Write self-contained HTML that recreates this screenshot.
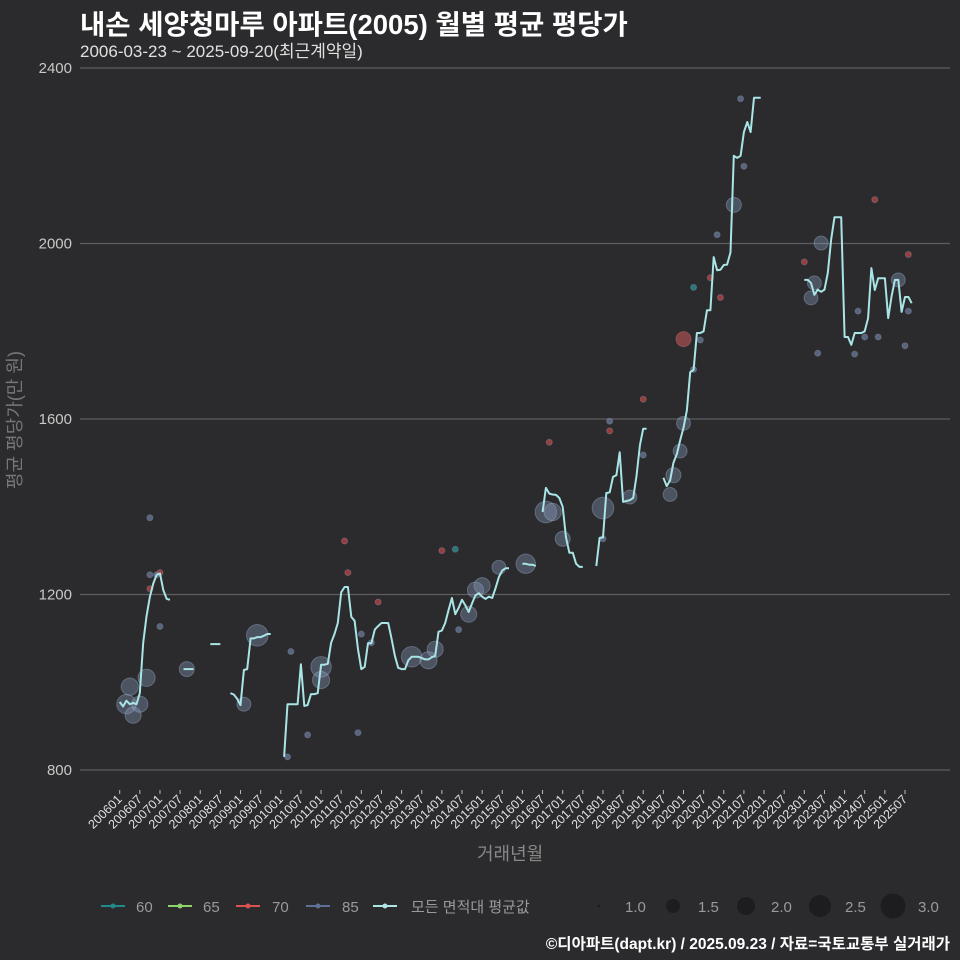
<!DOCTYPE html>
<html><head><meta charset="utf-8">
<style>
html,body{margin:0;padding:0;background:#2b2b2d;}
#wrap{position:relative;width:960px;height:960px;background:#2b2b2d;font-family:"Liberation Sans","Noto Sans CJK KR",sans-serif;overflow:hidden;}
.t{position:absolute;white-space:nowrap;}
</style></head>
<body>
<div id="wrap">
<div class="t" style="left:80px;top:2px;font-size:27.5px;font-weight:bold;color:#fff;">내손 세양청마루 아파트(2005) 월별 평균 평당가</div>
<div class="t" style="left:80px;top:37px;font-size:17px;color:#e0e0e0;">2006-03-23 ~ 2025-09-20(최근계약일)</div>
<div class="t" style="left:14px;top:420px;font-size:18px;color:#777;transform:translate(-50%,-50%) rotate(-90deg);transform-origin:center;">평균 평당가(만 원)</div>
<div class="t" style="left:477px;top:840px;font-size:18px;color:#888;">거래년월</div>
<svg id="chart" width="960" height="960" style="position:absolute;left:0;top:0;"></svg>
<div class="t" style="right:10px;top:932px;font-size:15.5px;font-weight:bold;color:#fff;">©디아파트(dapt.kr) / 2025.09.23 / 자료=국토교통부 실거래가</div>
</div>
<script>
// ---- data ----
const yTicks = [800, 1200, 1600, 2000, 2400];
const xTickLabels = ["200601","200607","200701","200707","200801","200807","200901","200907","201001","201007","201101","201107","201201","201207","201301","201307","201401","201407","201501","201507","201601","201607","201701","201707","201801","201807","201901","201907","202001","202007","202101","202107","202201","202207","202301","202307","202401","202407","202501","202507"];
const lineMonths = ["200601","200602","200603","200604","200605","200606","200607","200608","200609","200610","200611","200612","200701","200702","200703","200704",
"200708","200709","200710","200711",
"200804","200805","200806","200807",
"200810","200811","200812","200901","200902","200903","200904","200905","200906","200907","200908","200909","200910",
"201002","201003","201004","201005","201006","201007","201008","201009","201010","201011","201012","201101","201102","201103","201104","201105","201106","201107","201108","201109","201110","201111","201112","201201","201202","201203","201204","201205","201206","201207","201208","201209","201210","201211","201212","201301","201302","201303","201304","201305","201306","201307","201308","201309","201310","201311","201312","201401","201402","201403","201404","201405","201406","201407","201408","201409","201410","201411","201412","201501","201502","201503","201504","201505","201506","201507","201508","201509",
"201601","201602","201603","201604","201605",
"201607","201608","201609","201610","201611","201612","201701","201702","201703","201704","201705","201706","201707",
"201711","201712","201801","201802","201803","201804","201805","201806","201807","201808","201809","201810","201811","201812","201901","201902",
"201907","201908","201909","201910","201911","201912","202001","202002","202003","202004","202005","202006","202007","202008","202009","202010","202011","202012","202101","202102","202103","202104","202105","202106","202107","202108","202109","202110","202111","202112",
"202301","202302","202303","202304","202305","202306","202307","202308","202309","202310","202311","202312","202401","202402","202403","202404","202405","202406","202407","202408","202409","202410","202411","202412","202501","202502","202503","202504","202505","202506","202507","202508","202509"];
const lineValues = [955,945,958,950,953,950,975,1090,1150,1195,1225,1245,1248,1210,1190,1188,
1030,1030,1030,1030,
1087,1087,1087,1087,
975,972,962,948,1028,1030,1100,1100,1103,1103,1106,1110,1110,
830,950,950,950,950,1041,946,948,973,973,975,1040,1040,1042,1090,1110,1135,1205,1217,1217,1149,1140,1075,1030,1035,1089,1089,1120,1128,1135,1135,1135,1100,1060,1033,1030,1030,1050,1058,1058,1058,1055,1052,1052,1057,1060,1115,1118,1135,1165,1192,1155,1170,1188,1175,1160,1180,1198,1203,1195,1190,1195,1192,1215,1240,1255,1260,1260,
1270,1270,1268,1268,1265,
1388,1443,1430,1428,1427,1420,1400,1330,1295,1295,1270,1263,1263,
1265,1329,1330,1431,1433,1468,1472,1524,1411,1413,1415,1420,1470,1540,1578,1578,
1466,1447,1460,1500,1520,1552,1580,1620,1707,1712,1796,1796,1800,1848,1848,1969,1939,1940,1951,1952,1980,2200,2195,2200,2254,2277,2254,2332,2332,2332,
1917,1917,1910,1883,1895,1890,1895,1933,2010,2060,2060,2060,1787,1787,1769,1796,1796,1796,1800,1830,1944,1894,1921,1921,1921,1830,1880,1917,1917,1844,1878,1878,1864];
// bubbles (transactions): month, price, size, area group
const dotMonths = ["200603","200604","200605","200607","200609","200709","200902","200906","201101","201101","201304","201309","201311","201409","201411","201501","201506","201602","201608","201610","201701","201801","201809","201909","201910","201912","202001","202001","202104","202303","202304","202306","202505",
"200610","200610","200612","200701","200610","200701","201003","201004","201009","201108","201112","201109","201206","201201","201204","201401","201405","201406","201609","201803","201803","201801","201901","201901","202004","202006","202004","202009","202012","202011","202107","202301","202305","202106","202405","202404","202407","202410","202411","202508","202507","202508"];
const dotValues = [950,990,925,950,1010,1030,950,1107,1035,1005,1058,1050,1075,1155,1210,1220,1262,1270,1388,1388,1327,1397,1422,1428,1472,1527,1590,1782,2088,1876,1910,2001,1917,
1375,1245,1245,1127,1213,1250,830,1070,880,1322,885,1250,1183,1110,1090,1300,1303,1120,1547,1595,1573,1327,1518,1645,1713,1780,1900,1922,1877,2020,2176,1958,1750,2330,1846,1748,1787,2100,1787,1975,1767,1846];
const dotSizes = [2.4,2.2,2.1,2.1,2.2,2,1.9,2.6,2.5,2.2,2.5,2.2,2.1,2.1,2.1,2.1,1.9,2.4,2.6,2.2,2,2.6,1.9,1.9,2,1.9,1.9,2,2,1.9,1.9,1.9,1.9,
1,1,1,1,1,1,1,1,1,1,1,1,1,1,1,1,1,1,1,1,1,1,1,1,1,1,1,1,1,1,1,1,1,1,1,1,1,1,1,1,1,1];
const dotGroups = ["85","85","85","85","85","85","85","85","85","85","85","85","85","85","85","85","85","85","85","85","85","85","85","85","85","85","85","70","85","85","85","85","85",
"85","85","85","85","70","70","85","85","85","70","85","70","70","85","85","70","60","85","70","85","70","85","85","70","85","85","60","70","70","85","85","70","85","85","85","85","85","70","85","70","85","85"];
// ---- scales ----
const NS='http://www.w3.org/2000/svg';
const svg=document.getElementById('chart');
function mi(s){return (parseInt(s.slice(0,4))-2006)*12+parseInt(s.slice(4))-1;}
function X(s){return 119.7+mi(s)*3.356;}
function Y(v){return 68+(2400-v)*0.43875;}
function el(t,a){const e=document.createElementNS(NS,t);for(const k in a)e.setAttribute(k,a[k]);svg.appendChild(e);return e;}
// grid + y labels
yTicks.forEach(v=>{
  const g=el('line',{x1:80,x2:950,y1:Y(v),y2:Y(v),stroke:'#5e5e60','stroke-width':1.2});
  
  
  const t=el('text',{x:72,y:Y(v)+5,'text-anchor':'end','font-size':15,fill:'#c8c8c8','font-family':'Liberation Sans, sans-serif'});
  t.textContent=v;
  
  
});
// x ticks
xTickLabels.forEach(s=>{
  const x=X(s);
  const tk=el('line',{x1:x,x2:x,y1:790,y2:794,stroke:'#bbb','stroke-width':1});
  
  
  const t=el('text',{x:x+3,y:800,'text-anchor':'end','font-size':12.5,fill:'#e0e0e0','font-family':'Liberation Sans, sans-serif',transform:`rotate(-45 ${x+3} 800)`});
  t.textContent=s;
  
  
});
const colors={"60":"rgba(40,140,140,0.8)","65":"rgba(140,210,110,0.8)","70":"rgba(200,70,70,0.7)","85":"rgba(110,125,160,0.7)"};
// bubbles
dotMonths.forEach((m,i)=>{
  const s=dotSizes[i];const r=s<=1?3:2+(s-1)*5.5;
  const g=dotGroups[i];
  let fill,stroke;
  if(g==="85"&&s>1){fill='rgba(140,160,195,0.35)';stroke='rgba(170,190,220,0.35)';}
  else if(g==="70"&&s>1){fill='rgba(190,85,85,0.6)';stroke='rgba(210,110,110,0.4)';}
  else{fill=colors[g];stroke='rgba(160,170,200,0.3)';}
  const c=el('circle',{cx:X(m),cy:Y(dotValues[i]),r:r,fill:fill,stroke:stroke,'stroke-width':1});
  
  
});
// line segments
let seg=[];
function flush(){if(seg.length){const p=el('polyline',{points:seg.join(' '),fill:'none',stroke:'#a9e5e6','stroke-width':2,'stroke-linejoin':'round'});
  
  }seg=[];}
let prev=null;
lineMonths.forEach((m,i)=>{
  const v=lineValues[i];
  if(v==null){flush();prev=null;return;}
  if(prev!==null&&mi(m)-mi(prev)>1)flush();
  seg.push(X(m).toFixed(1)+','+Y(v).toFixed(1));prev=m;
});
flush();
// legend
const legItems=[["60","#1f8a88",113,136],["65","#8ed36c",180,203],["70","#d9534f",248,272],["85","#5f6f96",318,342],["모든 면적대 평균값","#aee6e6",385,411]];
legItems.forEach(it=>{
  const l=el('line',{x1:it[2]-12,x2:it[2]+12,y1:906,y2:906,stroke:it[1],'stroke-width':2});
  
  
  const c=el('circle',{cx:it[2],cy:906,r:2.5,fill:it[1]});
  
  
  const t=el('text',{x:it[3],y:912,'font-size':15,fill:'#9a9a9a','font-family':'Liberation Sans, Noto Sans CJK KR, sans-serif'});
  t.textContent=it[0];
  
  
});
const sizeItems=[["1.0",599,625,1.5],["1.5",673,698,7],["2.0",746,771,9],["2.5",820,845,11],["3.0",893,918,12.5]];
sizeItems.forEach(it=>{
  const c=el('circle',{cx:it[1],cy:906,r:it[3],fill:'#1d1d1f'});
  
  
  const t=el('text',{x:it[2],y:912,'font-size':15,fill:'#9a9a9a','font-family':'Liberation Sans, sans-serif'});
  t.textContent=it[0];
  
  
});
</script>
</body></html>
